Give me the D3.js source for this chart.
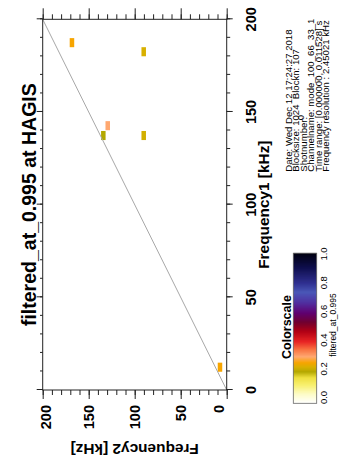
<!DOCTYPE html>
<html><head><meta charset="utf-8">
<script src="https://cdn.jsdelivr.net/npm/d3@7"></script>
<style>
html,body{margin:0;padding:0;background:#fff;}
svg{display:block;}
text{font-family:"Liberation Sans",Arial,Helvetica,sans-serif;fill:#000;}
</style></head><body>
<svg id="chart" width="339" height="458"></svg>
<script>
// ---------- data ----------
const titleText = "filtered_at_0.995 at HAGIS";
const xLabelText = "Frequency1 [kHz]";
const yLabelText = "Frequency2 [kHz]";
const axisDomain = [0, 200];
const majorTicks = [0, 50, 100, 150, 200];
const minorTicks = [0,10,20,30,40,50,60,70,80,90,100,110,120,130,140,150,160,170,180,190,200];

// cells (Frequency1, Frequency2, value)
const cellF1 = [187.4, 182.5, 142.6, 137.3, 137.3, 12.3];
const cellF2 = [168.2, 90.2, 129.3, 134.1, 90.2, 7.3];
const cellValue = [0.27, 0.24, 0.31, 0.21, 0.235, 0.27];
const cellBin = 4.9; // kHz (2 x frequency resolution)

// diagonal f1 = f2
const diagF1 = [0, 200];
const diagF2 = [0, 200];

// colour scale
const colorStopValues = [0.00, 0.06, 0.12, 0.17, 0.21, 0.24, 0.27, 0.31, 0.36, 0.41, 0.48, 0.54, 0.60, 0.67, 0.74, 0.80, 0.90, 1.00];
const colorStopColors = ["#ffffff", "#fdfcc8", "#f8f070", "#eee040", "#b4a800", "#d8b000", "#f7a500", "#ffa870", "#f87040", "#e82525", "#b00015", "#700030", "#600070", "#5030a0", "#4a58b8", "#303090", "#101050", "#000010"];
const colorbarTicks = [0, 0.2, 0.4, 0.6, 0.8, 1.0];
const colorbarTickLabels = ["0.0", "0.2", "0.4", "0.6", "0.8", "1.0"];
const colorbarTitle = "Colorscale";
const colorbarSubtitle = "filtered_at_0.995";

const infoLines = [
  "Date: Wed Dec 12 17:24:27 2018",
  "Blocksize: 1024  Blockn: 107",
  "Shotnumber:",
  "Channelname: mode_100_66_33_1",
  "Time range: [0.000000, 0.011528] s",
  "Frequency resolution : 2.45021 kHz"
];
const shotNumber = "0";

// ---------- drawing (in un-rotated frame 458 x 339, then rotated) ----------
const svg = d3.select("#chart");
const g = svg.append("g").attr("transform", "translate(0,458) rotate(-90)");

const x = d3.scaleLinear().domain(axisDomain).range([68, 438.7]);   // Frequency1
const y = d3.scaleLinear().domain(axisDomain).range([226.7, 42.7]); // Frequency2

const color = d3.scaleLinear().domain(colorStopValues).range(colorStopColors).clamp(true);

// cells
const cells = cellF1.map((f1, i) => ({f1, f2: cellF2[i], v: cellValue[i]}));
g.append("g").selectAll("rect").data(cells).join("rect")
  .attr("x", d => x(d.f1 - cellBin / 2))
  .attr("y", d => y(d.f2 + cellBin / 2))
  .attr("width", d => x(d.f1 + cellBin / 2) - x(d.f1 - cellBin / 2))
  .attr("height", d => y(d.f2 - cellBin / 2) - y(d.f2 + cellBin / 2))
  .attr("fill", d => color(d.v));

// diagonal
const line = d3.line().x(d => x(d[0])).y(d => y(d[1]));
g.append("path")
  .datum(diagF1.map((f, i) => [f, diagF2[i]]))
  .attr("d", line)
  .attr("fill", "none")
  .attr("stroke", "#a8a8a8")
  .attr("stroke-width", 1);

// frame
g.append("rect")
  .attr("x", x(0)).attr("y", y(200))
  .attr("width", x(200) - x(0)).attr("height", y(0) - y(200))
  .attr("fill", "none").attr("stroke", "#222").attr("stroke-width", 1);

function tickAxis(axis, transform, minorLen, majorLen) {
  const ga = g.append("g").attr("transform", transform);
  ga.call(axis.tickValues(minorTicks).tickSize(minorLen).tickFormat(""));
  ga.select(".domain").remove();
  ga.selectAll("line").attr("stroke", "#222");
  const gb = g.append("g").attr("transform", transform);
  gb.call(axis.tickValues(majorTicks).tickSize(majorLen).tickFormat(""));
  gb.select(".domain").remove();
  gb.selectAll("line").attr("stroke", "#222");
}
tickAxis(d3.axisBottom(x), `translate(0,${y(0)})`, 3.5, 6);
tickAxis(d3.axisTop(x), `translate(0,${y(200)})`, 2.7, 6);
tickAxis(d3.axisLeft(y), `translate(${x(0)},0)`, 5, 9);
tickAxis(d3.axisRight(y), `translate(${x(200)},0)`, 5, 11);

// tick labels Frequency1
g.append("g").selectAll("text").data(majorTicks).join("text")
  .attr("x", d => x(d))
  .attr("y", y(0) + 29)
  .attr("text-anchor", "middle")
  .attr("font-size", "14.5px").attr("font-weight", "bold")
  .text(d => d);

// tick labels Frequency2
g.append("g").selectAll("text").data(majorTicks).join("text")
  .attr("x", x(0) - 15)
  .attr("y", d => y(d) + (d === 200 ? 3 : d === 0 ? -7.5 : 0))
  .attr("dy", "0.36em")
  .attr("text-anchor", "end")
  .attr("font-size", "14.5px").attr("font-weight", "bold")
  .text(d => d);

// axis titles
g.append("text")
  .attr("x", (x(0) + x(200)) / 2).attr("y", 269)
  .attr("text-anchor", "middle")
  .attr("font-size", "15.4px").attr("font-weight", "bold")
  .text(xLabelText);

g.append("text")
  .attr("transform", `translate(14,${(y(0) + y(200)) / 2}) rotate(-90)`)
  .attr("text-anchor", "middle")
  .attr("font-size", "15.4px").attr("font-weight", "bold")
  .text(yLabelText);

// title
g.append("text")
  .attr("x", (x(0) + x(200)) / 2).attr("y", 36)
  .attr("text-anchor", "middle")
  .attr("font-size", "19.5px").attr("font-weight", "bold")
  .text(titleText);

// colour bar
const cb = d3.scaleLinear().domain([0, 1]).range([54.7, 204.7]);
const cbTop = 293.3, cbH = 23.4;
const nSteps = 150;
const steps = d3.range(0, nSteps).map(i => i / nSteps);
g.append("g").selectAll("rect").data(steps).join("rect")
  .attr("x", d => cb(d))
  .attr("y", cbTop)
  .attr("width", cb(1 / nSteps) - cb(0) + 0.4)
  .attr("height", cbH)
  .attr("fill", d => color(d + 0.5 / nSteps));
g.append("rect")
  .attr("x", cb(0)).attr("y", cbTop)
  .attr("width", cb(1) - cb(0)).attr("height", cbH)
  .attr("fill", "none").attr("stroke", "#666").attr("stroke-width", 0.8);

const cbLab = d3.scaleLinear().domain([0, 1]).range([60.5, 204]);
g.append("g").selectAll("text").data(colorbarTicks).join("text")
  .attr("x", d => cbLab(d))
  .attr("y", 327.3)
  .attr("text-anchor", "middle")
  .attr("font-size", "9.5px")
  .text((d, i) => colorbarTickLabels[i]);

g.append("text")
  .attr("x", 133).attr("y", 336.3)
  .attr("text-anchor", "middle")
  .attr("font-size", "8.5px")
  .text(colorbarSubtitle);

g.append("text")
  .attr("x", 131).attr("y", 290.5)
  .attr("text-anchor", "middle")
  .attr("font-size", "12.5px").attr("font-weight", "bold")
  .text(colorbarTitle);

// info text
const info = g.append("g").attr("font-size", "9.6px");
infoLines.forEach((t, i) => {
  info.append("text")
    .attr("x", 286.3).attr("y", 292 + i * 7.4)
    .attr("xml:space", "preserve")
    .style("white-space", "pre")
    .text(t);
});
info.append("text")
  .attr("x", 343).attr("y", 292 + 2 * 7.4 - 3)
  .attr("text-anchor", "end")
  .text(shotNumber);
</script>
</body></html>
